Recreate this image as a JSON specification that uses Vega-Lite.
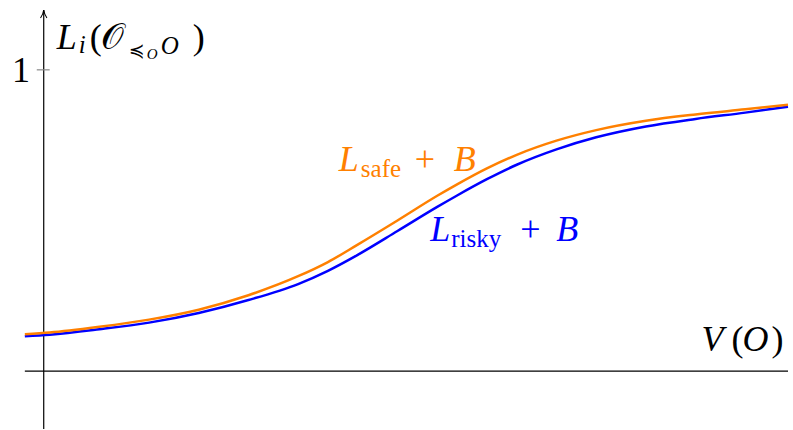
{
  "$schema": "https://vega.github.io/schema/vega-lite/v6.json",
  "width": 793,
  "height": 430,
  "autosize": {"type": "fit", "contains": "padding"},
  "padding": 0,
  "config": {
    "view": {"stroke": null},
    "mark": {"font": "Liberation Serif"},
    "text": {"font": "Liberation Serif", "baseline": "alphabetic", "align": "left", "fontSize": 36, "color": "black"}
  },
  "datasets": {
    "curves": [
      {"series": "safe", "V": -0.19, "L": 0.1225},
      {"series": "safe", "V": 0.06, "L": 0.128},
      {"series": "safe", "V": 0.56, "L": 0.147},
      {"series": "safe", "V": 1.06, "L": 0.171},
      {"series": "safe", "V": 1.56, "L": 0.204},
      {"series": "safe", "V": 2.06, "L": 0.252},
      {"series": "safe", "V": 2.56, "L": 0.315},
      {"series": "safe", "V": 2.86, "L": 0.362},
      {"series": "safe", "V": 3.16, "L": 0.42},
      {"series": "safe", "V": 3.56, "L": 0.5},
      {"series": "safe", "V": 3.96, "L": 0.582},
      {"series": "safe", "V": 4.16, "L": 0.62},
      {"series": "safe", "V": 4.46, "L": 0.673},
      {"series": "safe", "V": 4.76, "L": 0.718},
      {"series": "safe", "V": 5.16, "L": 0.765},
      {"series": "safe", "V": 5.56, "L": 0.8},
      {"series": "safe", "V": 6.06, "L": 0.831},
      {"series": "safe", "V": 6.56, "L": 0.852},
      {"series": "safe", "V": 7.06, "L": 0.869},
      {"series": "safe", "V": 7.49, "L": 0.884},
      {"series": "risky", "V": -0.19, "L": 0.1159},
      {"series": "risky", "V": 0.06, "L": 0.121},
      {"series": "risky", "V": 0.56, "L": 0.139},
      {"series": "risky", "V": 1.06, "L": 0.161},
      {"series": "risky", "V": 1.56, "L": 0.193},
      {"series": "risky", "V": 2.06, "L": 0.236},
      {"series": "risky", "V": 2.56, "L": 0.289},
      {"series": "risky", "V": 2.86, "L": 0.333},
      {"series": "risky", "V": 3.16, "L": 0.386},
      {"series": "risky", "V": 3.56, "L": 0.465},
      {"series": "risky", "V": 3.96, "L": 0.545},
      {"series": "risky", "V": 4.16, "L": 0.583},
      {"series": "risky", "V": 4.46, "L": 0.637},
      {"series": "risky", "V": 4.76, "L": 0.685},
      {"series": "risky", "V": 5.16, "L": 0.736},
      {"series": "risky", "V": 5.56, "L": 0.776},
      {"series": "risky", "V": 6.06, "L": 0.812},
      {"series": "risky", "V": 6.56, "L": 0.837},
      {"series": "risky", "V": 7.06, "L": 0.858},
      {"series": "risky", "V": 7.49, "L": 0.8775}
    ],
    "anchors": [
      {"label": "title", "V": 0.11, "L": 1.0695},
      {"label": "one", "V": -0.32, "L": 0.9603},
      {"label": "xtitle", "V": 6.58, "L": 0.0662},
      {"label": "safe", "V": 2.94, "L": 0.6656},
      {"label": "risky", "V": 3.86, "L": 0.4305}
    ]
  },
  "encoding": {
    "x": {"field": "V", "type": "quantitative", "axis": null, "scale": {"domain": [-0.44, 7.49], "nice": false, "zero": false}},
    "y": {"field": "L", "type": "quantitative", "axis": null, "scale": {"domain": [-0.19205, 1.23179], "nice": false, "zero": false}}
  },
  "layer": [
    {
      "data": {"values": [{"V": -0.19, "V2": 7.49, "L": 0}]},
      "mark": {"type": "rule", "color": "black", "strokeWidth": 1.2},
      "encoding": {"x2": {"field": "V2"}}
    },
    {
      "data": {"values": [{"V": 0, "L": -0.19205, "L2": 1.1987}]},
      "mark": {"type": "rule", "color": "black", "strokeWidth": 1.2},
      "encoding": {"y2": {"field": "L2"}}
    },
    {
      "data": {"values": [{"V": 0, "L": 1.1854}]},
      "mark": {"type": "point", "shape": "M-0.8,1 Q-0.15,0.1 0,-1 Q0.15,0.1 0.8,1", "size": 64, "filled": false, "stroke": "black", "strokeWidth": 1.1, "opacity": 1}
    },
    {
      "data": {"values": [{"V": -0.07, "V2": 0.06, "L": 1}]},
      "mark": {"type": "rule", "color": "#888888", "strokeWidth": 1.2},
      "encoding": {"x2": {"field": "V2"}}
    },
    {
      "data": {"name": "curves"},
      "transform": [{"filter": "datum.series === 'risky'"}],
      "mark": {"type": "line", "color": "#0000ff", "strokeWidth": 2.5, "interpolate": "monotone"}
    },
    {
      "data": {"name": "curves"},
      "transform": [{"filter": "datum.series === 'safe'"}],
      "mark": {"type": "line", "color": "#ff8000", "strokeWidth": 2.5, "interpolate": "monotone"}
    },
    {
      "data": {"name": "anchors"},
      "transform": [{"filter": "datum.label === 'safe'"}],
      "layer": [
        {"mark": {"type": "text", "font": "Liberation Serif", "text": "L", "fontStyle": "italic", "dx": 3, "color": "#ff8000"}},
        {"mark": {"type": "text", "font": "Liberation Serif", "text": "safe", "fontSize": 25, "dx": 25, "dy": 6, "color": "#ff8000"}},
        {"mark": {"type": "text", "font": "Liberation Serif", "text": "+", "dx": 79, "color": "#ff8000"}},
        {"mark": {"type": "text", "font": "Liberation Serif", "text": "B", "fontStyle": "italic", "dx": 118, "color": "#ff8000"}}
      ]
    },
    {
      "data": {"name": "anchors"},
      "transform": [{"filter": "datum.label === 'risky'"}],
      "layer": [
        {"mark": {"type": "text", "font": "Liberation Serif", "text": "L", "fontStyle": "italic", "dx": 3, "color": "#0000ff"}},
        {"mark": {"type": "text", "font": "Liberation Serif", "text": "risky", "fontSize": 25, "dx": 24, "dy": 6, "color": "#0000ff"}},
        {"mark": {"type": "text", "font": "Liberation Serif", "text": "+", "dx": 93, "color": "#0000ff"}},
        {"mark": {"type": "text", "font": "Liberation Serif", "text": "B", "fontStyle": "italic", "dx": 129, "color": "#0000ff"}}
      ]
    },
    {
      "data": {"name": "anchors"},
      "transform": [{"filter": "datum.label === 'title'"}],
      "layer": [
        {"mark": {"type": "text", "font": "Liberation Serif", "text": "L", "fontStyle": "italic", "dx": 2}},
        {"mark": {"type": "text", "font": "Liberation Serif", "text": "i", "fontStyle": "italic", "fontSize": 25, "dx": 24, "dy": 4}},
        {"mark": {"type": "text", "font": "Liberation Serif", "text": "(", "dx": 35}},
        {"mark": {"type": "text", "font": "Liberation Serif", "text": "𝒪", "dx": 46}},
        {"mark": {"type": "text", "font": "DejaVu Sans", "text": "≼", "fontSize": 19, "dx": 74, "dy": 8}},
        {"mark": {"type": "text", "font": "Liberation Serif", "text": "O", "fontStyle": "italic", "fontSize": 15, "dx": 92, "dy": 10}},
        {"mark": {"type": "text", "font": "Liberation Serif", "text": "O", "fontStyle": "italic", "fontSize": 25, "dx": 106, "dy": 5}},
        {"mark": {"type": "text", "font": "Liberation Serif", "text": ")", "dx": 138}}
      ]
    },
    {
      "data": {"name": "anchors"},
      "transform": [{"filter": "datum.label === 'one'"}],
      "mark": {"type": "text", "font": "Liberation Serif", "text": "1"}
    },
    {
      "data": {"name": "anchors"},
      "transform": [{"filter": "datum.label === 'xtitle'"}],
      "layer": [
        {"mark": {"type": "text", "font": "Liberation Serif", "text": "V", "fontStyle": "italic", "dx": 4}},
        {"mark": {"type": "text", "font": "Liberation Serif", "text": "(", "dx": 34}},
        {"mark": {"type": "text", "font": "Liberation Serif", "text": "O", "fontStyle": "italic", "dx": 45}},
        {"mark": {"type": "text", "font": "Liberation Serif", "text": ")", "dx": 74}}
      ]
    }
  ]
}
